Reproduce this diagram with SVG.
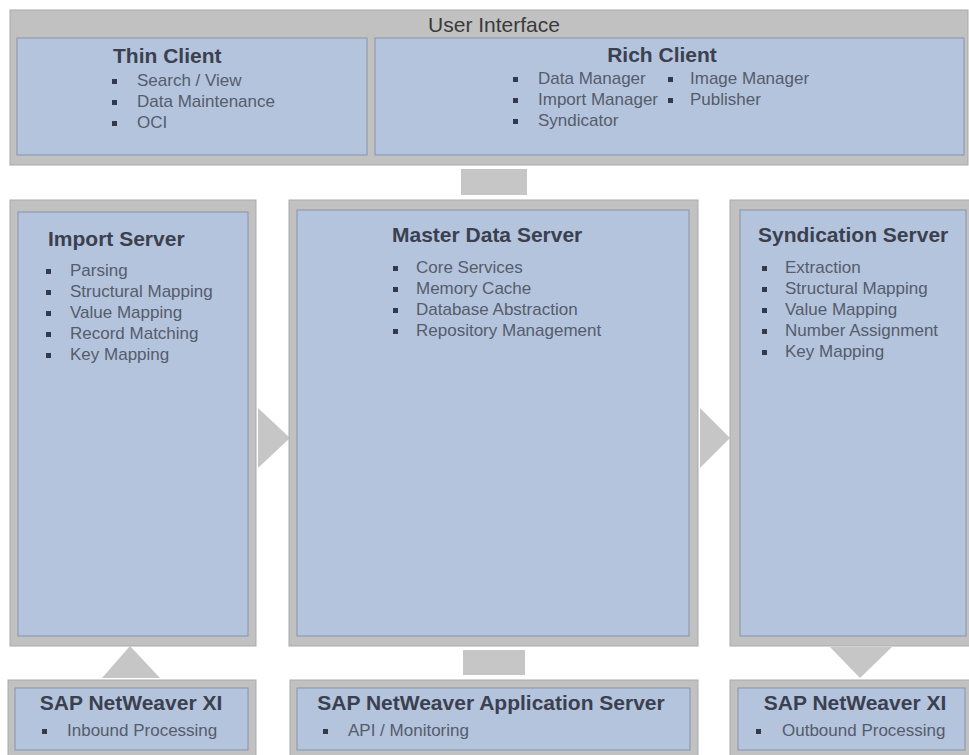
<svg xmlns="http://www.w3.org/2000/svg" width="969" height="755" viewBox="0 0 969 755">
<style>
.outer{fill:#c1c1c1;stroke:#a9a9a9;stroke-width:1}
.inner{fill:#b4c4dc;stroke:#8793aa;stroke-width:1}
.conn{fill:#c6c6c6}
.ttl{font-family:"Liberation Sans",Arial,sans-serif;font-weight:bold;font-size:21px;fill:#3b4050}
.hdr{font-family:"Liberation Sans",Arial,sans-serif;font-size:21px;fill:#3a3a3a}
.itm{font-family:"Liberation Sans",Arial,sans-serif;font-size:17px;fill:#555c6c}
.bul{fill:#343a4a}
</style>
<rect width="969" height="755" fill="#ffffff"/>

<g id="connectors">
<rect class="conn" x="461" y="169" width="66" height="26"/>
<polygon class="conn" points="258,408 290,438 258,468"/>
<polygon class="conn" points="700,408 730,438 700,468"/>
<polygon class="conn" points="102,678 130,646 160,678"/>
<rect class="conn" x="463" y="650" width="62" height="25"/>
<polygon class="conn" points="830,647 892,647 860,678"/>
</g>

<g id="user-interface">
<rect class="outer" x="10" y="10" width="958" height="155"/>
<text class="hdr" x="494" y="32" text-anchor="middle">User Interface</text>
</g>

<g id="thin-client">
<rect class="inner" x="17" y="38" width="350" height="117"/>
<text class="ttl" x="113" y="63">Thin Client</text>
<rect class="bul" x="112" y="79" width="5" height="5"/>
<text class="itm" x="137" y="86">Search / View</text>
<rect class="bul" x="112" y="100" width="5" height="5"/>
<text class="itm" x="137" y="107">Data Maintenance</text>
<rect class="bul" x="112" y="121" width="5" height="5"/>
<text class="itm" x="137" y="128">OCI</text>
</g>

<g id="rich-client">
<rect class="inner" x="375" y="38" width="589" height="117"/>
<text class="ttl" x="662" y="62" text-anchor="middle">Rich Client</text>
<rect class="bul" x="513" y="77" width="5" height="5"/>
<text class="itm" x="538" y="84">Data Manager</text>
<rect class="bul" x="668" y="77" width="5" height="5"/>
<text class="itm" x="690" y="84">Image Manager</text>
<rect class="bul" x="513" y="98" width="5" height="5"/>
<text class="itm" x="538" y="105">Import Manager</text>
<rect class="bul" x="668" y="98" width="5" height="5"/>
<text class="itm" x="690" y="105">Publisher</text>
<rect class="bul" x="513" y="119" width="5" height="5"/>
<text class="itm" x="538" y="126">Syndicator</text>
</g>

<g id="import-server">
<rect class="outer" x="10" y="200" width="246" height="446"/>
<rect class="inner" x="18" y="212" width="230" height="424"/>
<text class="ttl" x="48" y="246">Import Server</text>
<rect class="bul" x="46" y="269" width="5" height="5"/>
<text class="itm" x="70" y="276">Parsing</text>
<rect class="bul" x="46" y="290" width="5" height="5"/>
<text class="itm" x="70" y="297">Structural Mapping</text>
<rect class="bul" x="46" y="311" width="5" height="5"/>
<text class="itm" x="70" y="318">Value Mapping</text>
<rect class="bul" x="46" y="332" width="5" height="5"/>
<text class="itm" x="70" y="339">Record Matching</text>
<rect class="bul" x="46" y="353" width="5" height="5"/>
<text class="itm" x="70" y="360">Key Mapping</text>
</g>

<g id="master-data-server">
<rect class="outer" x="289" y="200" width="409" height="446"/>
<rect class="inner" x="297" y="210" width="392" height="426"/>
<text class="ttl" x="392" y="242">Master Data Server</text>
<rect class="bul" x="393" y="266" width="5" height="5"/>
<text class="itm" x="416" y="273">Core Services</text>
<rect class="bul" x="393" y="287" width="5" height="5"/>
<text class="itm" x="416" y="294">Memory Cache</text>
<rect class="bul" x="393" y="308" width="5" height="5"/>
<text class="itm" x="416" y="315">Database Abstraction</text>
<rect class="bul" x="393" y="329" width="5" height="5"/>
<text class="itm" x="416" y="336">Repository Management</text>
</g>

<g id="syndication-server">
<rect class="outer" x="730" y="200" width="245" height="446"/>
<rect class="inner" x="740" y="210" width="226" height="426"/>
<text class="ttl" x="758" y="242">Syndication Server</text>
<rect class="bul" x="762" y="266" width="5" height="5"/>
<text class="itm" x="785" y="273">Extraction</text>
<rect class="bul" x="762" y="287" width="5" height="5"/>
<text class="itm" x="785" y="294">Structural Mapping</text>
<rect class="bul" x="762" y="308" width="5" height="5"/>
<text class="itm" x="785" y="315">Value Mapping</text>
<rect class="bul" x="762" y="329" width="5" height="5"/>
<text class="itm" x="785" y="336">Number Assignment</text>
<rect class="bul" x="762" y="350" width="5" height="5"/>
<text class="itm" x="785" y="357">Key Mapping</text>
</g>

<g id="xi-inbound">
<rect class="outer" x="8" y="680" width="248" height="80"/>
<rect class="inner" x="15" y="688" width="233" height="62"/>
<text class="ttl" x="131" y="710" text-anchor="middle">SAP NetWeaver XI</text>
<rect class="bul" x="42" y="729" width="5" height="5"/>
<text class="itm" x="67" y="736">Inbound Processing</text>
</g>

<g id="application-server">
<rect class="outer" x="290" y="680" width="408" height="80"/>
<rect class="inner" x="297" y="688" width="393" height="62"/>
<text class="ttl" x="491" y="710" text-anchor="middle">SAP NetWeaver Application Server</text>
<rect class="bul" x="323" y="729" width="5" height="5"/>
<text class="itm" x="348" y="736">API / Monitoring</text>
</g>

<g id="xi-outbound">
<rect class="outer" x="730" y="680" width="245" height="80"/>
<rect class="inner" x="738" y="688" width="227" height="62"/>
<text class="ttl" x="855" y="710" text-anchor="middle">SAP NetWeaver XI</text>
<rect class="bul" x="756" y="729" width="5" height="5"/>
<text class="itm" x="782" y="736">Outbound Processing</text>
</g>
</svg>
